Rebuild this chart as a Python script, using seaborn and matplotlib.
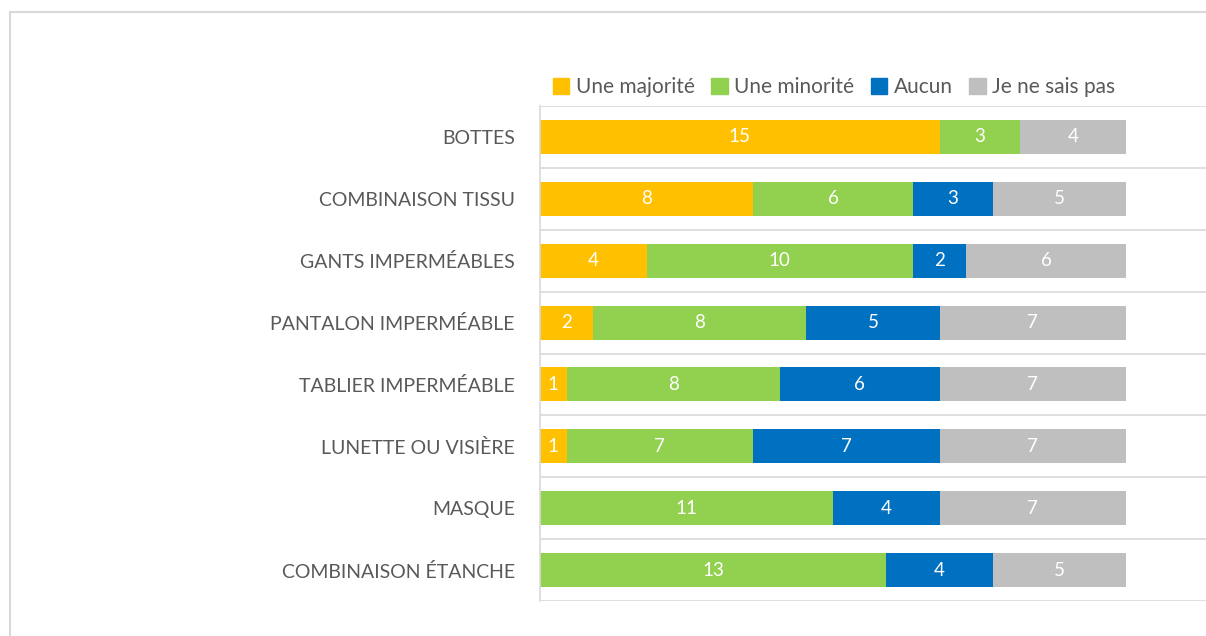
import numpy as np
import pandas as pd
import matplotlib.pyplot as plt
import matplotlib.patches as mpatches
import seaborn as sns

categories = ["BOTTES", "COMBINAISON TISSU", "GANTS IMPERMÉABLES", "PANTALON IMPERMÉABLE",
              "TABLIER IMPERMÉABLE", "LUNETTE OU VISIÈRE", "MASQUE", "COMBINAISON ÉTANCHE"]
majorite = [15, 8, 4, 2, 1, 1, 0, 0]
minorite = [3, 6, 10, 8, 8, 7, 11, 13]
aucun = [0, 3, 2, 5, 6, 7, 4, 4]
nsp = [4, 5, 6, 7, 7, 7, 7, 5]
series = ["Une majorité", "Une minorité", "Aucun", "Je ne sais pas"]
colors = ["#FFC000", "#92D050", "#0070C0", "#BFBFBF"]

sns.set_style("white")
plt.rcParams['font.family'] = ['Lato', 'DejaVu Sans']

df = pd.DataFrame({"cat": categories, series[0]: majorite, series[1]: minorite,
                   series[2]: aucun, series[3]: nsp})
cum = df[series].cumsum(axis=1)

fig = plt.figure(figsize=(12.06, 6.36), dpi=100)
ax = fig.add_axes([540/1206, 1 - 601/636, 1 - 540/1206, (601 - 106)/636])

# stacked bars: draw cumulative totals from the back to the front
for s, c in reversed(list(zip(series, colors))):
    sns.barplot(x=cum[s], y=df["cat"], color=c, width=0.55, orient="h",
                ax=ax, saturation=1, linewidth=0)

for i in range(len(categories)):
    for s in series:
        v = df.loc[i, s]
        if v > 0:
            ax.text(cum.loc[i, s] - v/2, i, str(v), ha="center", va="center",
                    color="white", fontsize=13.5)

ax.set_xlim(0, 25)
ax.set_ylim(len(categories) - 0.5, -0.5)
ax.set_xlabel("")
ax.set_ylabel("")
ax.set_xticks([])
ax.set_yticks(range(len(categories)))
ax.set_yticklabels(categories, fontsize=14, color="#595959")
ax.tick_params(axis="y", length=0, pad=18)
for y in np.arange(-0.5, len(categories), 1):
    ax.axhline(y, color="#D9D9D9", lw=1.2, zorder=0)
for side in ["top", "right", "bottom"]:
    ax.spines[side].set_visible(False)
ax.spines["left"].set_color("#D9D9D9")
ax.spines["left"].set_linewidth(1.2)

handles = [mpatches.Patch(color=c, label=s) for s, c in zip(series, colors)]
fig.legend(handles=handles, loc="center", bbox_to_anchor=(834/1206, 1 - 87/636), ncol=4,
           frameon=False, handlelength=0.8, handleheight=0.8, handletextpad=0.3,
           columnspacing=0.8, prop={"size": 15}, labelcolor="#595959")

fig.patches.append(mpatches.Rectangle((10/1206, -0.1), 1.2, 1.1 - 12/636,
                                      transform=fig.transFigure, fill=False,
                                      edgecolor="#D9D9D9", lw=1.5))

fig.savefig("out.png", dpi=100)
